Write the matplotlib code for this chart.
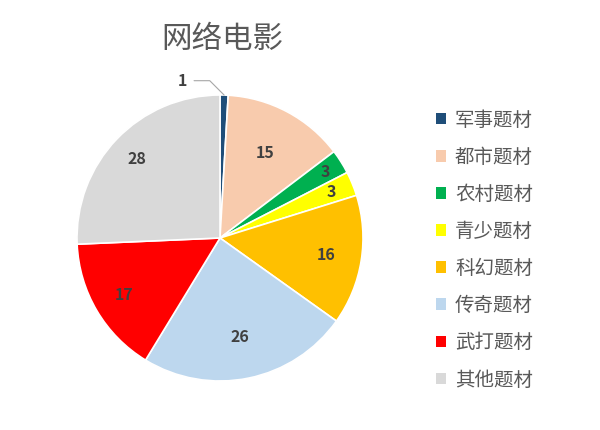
import numpy as np
import matplotlib
matplotlib.use("Agg")
import matplotlib.pyplot as plt
from matplotlib.patches import Patch

plt.rcParams['font.family'] = ['Noto Sans CJK SC', 'DejaVu Sans']

categories = ["军事题材", "都市题材", "农村题材", "青少题材",
              "科幻题材", "传奇题材", "武打题材", "其他题材"]
values = [1, 15, 3, 3, 16, 26, 17, 28]
colors = ["#1F4E79", "#F8CBAD", "#00B050", "#FFFF00",
          "#FFC000", "#BDD7EE", "#FF0000", "#D9D9D9"]
# how far out each number sits, as a share of the radius
label_r = [None, 0.67, 0.87, 0.84, 0.755, 0.71, 0.78, 0.80]

fig = plt.figure(figsize=(6, 4.3), dpi=100)
ax = fig.add_axes([77 / 600, 49 / 430, 286 / 600, 286 / 430])

wedges, _ = ax.pie(values, colors=colors, startangle=90, counterclock=False,
                   radius=1.0, wedgeprops=dict(edgecolor="white", linewidth=1.2))
ax.set_xlim(-1, 1)
ax.set_ylim(-1, 1)
ax.set_aspect("equal")

for w, v, r in zip(wedges, values, label_r):
    mid = np.deg2rad((w.theta1 + w.theta2) / 2)
    if r is None:
        # small slice: label outside with a leader line
        tip = (np.cos(mid), np.sin(mid))
        ax.annotate(str(v), xy=tip, xytext=(-0.23, 1.10),
                    ha="right", va="center", fontsize=11.5, fontweight="bold",
                    color="#404040",
                    arrowprops=dict(arrowstyle="-", color="#A6A6A6", lw=0.8,
                                    shrinkA=3, shrinkB=0,
                                    connectionstyle="angle,angleA=0,angleB=135,rad=0"))
        continue
    ax.text(r * np.cos(mid), r * np.sin(mid), str(v), ha="center", va="center",
            fontsize=11.5, fontweight="bold", color="#404040")

fig.text(222 / 600, 1 - 40 / 430, "网络电影", ha="center", va="center",
         fontsize=22, color="#595959")

handles = [Patch(facecolor=c, edgecolor="none") for c in colors]
fig.legend(handles, categories, loc="center left",
           bbox_to_anchor=(418 / 600, 1 - 250 / 430), frameon=False,
           fontsize=14, labelcolor="#595959", handlelength=0.55,
           handleheight=0.55, handletextpad=0.45, labelspacing=0.83)

fig.savefig("out.png", dpi=100)
